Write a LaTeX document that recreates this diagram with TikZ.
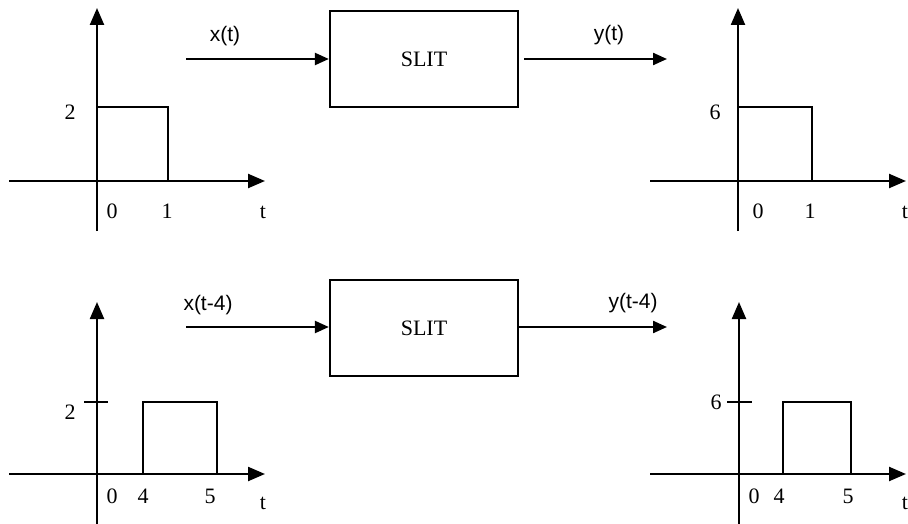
\documentclass[tikz,border=0pt]{standalone}
\usepackage{fontspec}
\setmainfont{Liberation Serif}
\newfontfamily\labelfont{Liberation Sans}
\usetikzlibrary{arrows.meta}
\begin{document}
\begin{tikzpicture}[x=1pt,y=-1pt,
  line width=2.3pt,
  axis/.style={-{Triangle[length=17pt,width=14pt]}},
  sig/.style={-{Triangle[length=14pt,width=12pt]}},
  slit/.style={draw,line width=2.3pt,minimum width=188pt,minimum height=96pt,inner sep=0pt,font=\fontsize{22}{24}\selectfont},
  num/.style={inner sep=0pt,font=\fontsize{22}{24}\selectfont},
  sname/.style={inner sep=0pt,font=\labelfont\fontsize{21}{23}\selectfont}]
\useasboundingbox (0,0) rectangle (908,524);

% --- systems and signal flow ---
\node[slit] (sys1) at (424,59) {SLIT};
\node[slit] (sys2) at (424,328) {SLIT};
\coordinate (in1) at (186,59);
\coordinate (out1s) at (524,59);
\coordinate (out1) at (667,59);
\coordinate (in2) at (186,327);
\coordinate (out2) at (667,327);
\draw[sig] (in1) -- (sys1.west |- in1);
\draw[sig] (out1s) -- (out1);
\draw[sig] (in2) -- (sys2.west |- in2);
\draw[sig] (sys2.east |- out2) -- (out2);
\node[sname] (lx1) at (225,36) {x(t)};
\node[sname] (ly1) at (609,35) {y(t)};
\node[sname] (lx2) at (208,305) {x(t-4)};
\node[sname] (ly2) at (633,303) {y(t-4)};

% --- x(t) ---
\begin{scope}[shift={(97,181)}]
  \draw[axis] (0,50) -- (0,-173);
  \draw[axis] (-88,0) -- (168,0);
  \draw (0,-74) -- (71,-74) -- (71,0);
  \node[num] (a2) at (-27,-69) {2};
  \node[num] (a0) at (15,30) {0};
  \node[num] (a1) at (70,30) {1};
  \node[num] (at) at (166,31) {t};
\end{scope}

% --- y(t) ---
\begin{scope}[shift={(738,181)}]
  \draw[axis] (0,50) -- (0,-173);
  \draw[axis] (-88,0) -- (168,0);
  \draw (0,-74) -- (74,-74) -- (74,0);
  \node[num] (b6) at (-23,-69) {6};
  \node[num] (b0) at (20,30) {0};
  \node[num] (b1) at (72,30) {1};
  \node[num] (bt) at (167,31) {t};
\end{scope}

% --- x(t-4) ---
\begin{scope}[shift={(97,474)}]
  \draw[axis] (0,50) -- (0,-172);
  \draw[axis] (-88,0) -- (168,0);
  \draw (-13,-72) -- (11,-72);
  \draw (46,0) -- (46,-72) -- (120,-72) -- (120,0);
  \node[num] (c2) at (-27,-62) {2};
  \node[num] (c0) at (15,22) {0};
  \node[num] (c4) at (46,22) {4};
  \node[num] (c5) at (113,22) {5};
  \node[num] (ct) at (166,29) {t};
\end{scope}

% --- y(t-4) ---
\begin{scope}[shift={(739,474)}]
  \draw[axis] (0,50) -- (0,-172);
  \draw[axis] (-89,0) -- (167,0);
  \draw (-12,-72) -- (13,-72);
  \draw (44,0) -- (44,-72) -- (112,-72) -- (112,0);
  \node[num] (d6) at (-23,-72) {6};
  \node[num] (d0) at (15,22) {0};
  \node[num] (d4) at (40,22) {4};
  \node[num] (d5) at (109,22) {5};
  \node[num] (dt) at (166,29) {t};
\end{scope}
\end{tikzpicture}
\end{document}
